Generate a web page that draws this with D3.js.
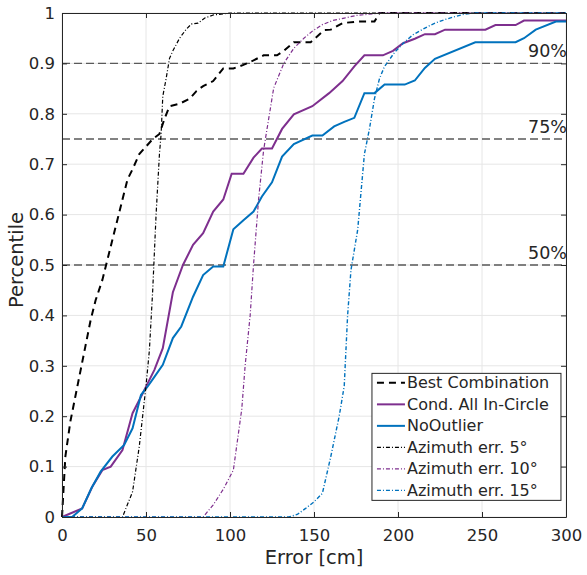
<!DOCTYPE html>
<html>
<head>
<meta charset="utf-8">
<script src="https://cdn.jsdelivr.net/npm/d3@7"></script>
<style>
    body { margin: 0; background: #fff; }
    text { font-family: "DejaVu Sans", Verdana, sans-serif; fill: #262626; }
</style>
</head>
<body>
<div id="chart"></div>
<script>
// error [cm] vs percentile
const bestCombination = [[0,0],[2,0.12],[5,0.19],[8,0.24],[11,0.29],[14,0.34],[17,0.39],[20,0.43],[24,0.47],[27,0.51],[30,0.55],[33,0.59],[36,0.63],[39,0.67],[42,0.69],[46,0.72],[50,0.735],[54,0.75],[58,0.76],[61,0.79],[64,0.815],[70,0.82],[76,0.83],[80,0.845],[84,0.855],[90,0.865],[96,0.89],[102,0.89],[108,0.897],[114,0.906],[120,0.916],[128,0.916],[132,0.925],[138,0.942],[148,0.942],[156,0.966],[160,0.967],[167,0.98],[176,0.983],[186,0.983],[189,1],[300,1]];
const condAllInCircle = [[0,0],[12,0.017],[18,0.06],[24,0.093],[29,0.1],[36,0.133],[42,0.206],[48,0.245],[55,0.292],[60,0.335],[66,0.446],[72,0.5],[78,0.54],[84,0.563],[90,0.606],[96,0.63],[101,0.681],[108,0.681],[114,0.713],[119,0.731],[125,0.731],[131,0.77],[138,0.799],[149,0.815],[159,0.841],[167,0.865],[174,0.894],[180,0.916],[191,0.916],[197,0.925],[203,0.94],[210,0.949],[216,0.958],[222,0.958],[228,0.967],[252,0.967],[258,0.976],[270,0.976],[275,0.985],[300,0.985]];
const noOutlier = [[0,0],[6,0],[12,0.017],[17.5,0.057],[23,0.09],[30,0.12],[37,0.143],[42,0.176],[47,0.242],[51,0.259],[55,0.278],[60,0.302],[66,0.355],[71,0.378],[78,0.437],[84,0.48],[90,0.497],[96,0.497],[102,0.571],[108,0.589],[114,0.606],[119,0.636],[125,0.664],[131,0.715],[138,0.74],[149,0.757],[155,0.757],[162,0.775],[168,0.784],[174,0.792],[180,0.841],[186,0.841],[192,0.858],[204,0.858],[210,0.866],[216,0.891],[222,0.909],[246,0.942],[270,0.942],[275,0.95],[282,0.967],[294,0.983],[300,0.983]];
const azimuth5 = [[0,0],[36,0],[42,0.05],[46,0.14],[50,0.26],[52,0.33],[54,0.45],[56,0.6],[58,0.72],[59,0.76],[60,0.835],[62,0.87],[64,0.91],[66,0.925],[70,0.95],[74,0.968],[77,0.978],[81,0.98],[85,0.99],[90,0.996],[100,1],[300,1]];
const azimuth10 = [[0,0],[84,0],[90,0.024],[96,0.055],[102,0.093],[107,0.214],[109,0.3],[112,0.4],[114,0.5],[117,0.63],[120,0.728],[126,0.851],[132,0.9],[138,0.93],[144,0.95],[149,0.964],[155,0.977],[161,0.985],[168,0.99],[175,0.995],[190,1],[300,1]];
const azimuth15 = [[0,0],[135,0],[140,0.005],[145,0.017],[150,0.03],[155,0.047],[160,0.12],[165,0.2],[168,0.26],[170,0.4],[172,0.49],[176,0.57],[180,0.72],[183,0.77],[186,0.83],[189,0.87],[192,0.894],[198,0.922],[204,0.943],[209,0.957],[216,0.97],[222,0.98],[228,0.987],[234,0.993],[240,0.998],[246,1],[300,1]];

const seriesNames = ["Best Combination", "Cond. All In-Circle", "NoOutlier", "Azimuth err. 5°", "Azimuth err. 10°", "Azimuth err. 15°"];
const xTicks = [0, 50, 100, 150, 200, 250, 300];
const yTicks = [0, 0.1, 0.2, 0.3, 0.4, 0.5, 0.6, 0.7, 0.8, 0.9, 1];
const refLevels = [0.5, 0.75, 0.9];
const refLabels = ["50%", "75%", "90%"];

class CdfChart {

    constructor(parentElement) {
        this.parentElement = parentElement;
        this.series = [bestCombination, condAllInCircle, noOutlier, azimuth5, azimuth10, azimuth15];
        this.initVis();
    }

    initVis() {
        let vis = this;

        vis.margin = {top: 13, right: 21, bottom: 58, left: 62};
        vis.width = 587 - vis.margin.left - vis.margin.right;
        vis.height = 575 - vis.margin.top - vis.margin.bottom;

        vis.root = d3.select("#" + vis.parentElement).append("svg")
            .attr("width", 587)
            .attr("height", 575);
        vis.svg = vis.root.append("g")
            .attr("transform", `translate(${vis.margin.left}, ${vis.margin.top})`);

        vis.x = d3.scaleLinear().domain([0, 300]).range([0, vis.width]);
        vis.y = d3.scaleLinear().domain([0, 1]).range([vis.height, 0]);

        // one style per series, matlab default colours
        vis.styles = [
            {color: "#000000", width: 2, dash: "7,5"},
            {color: "#7E2F8E", width: 2, dash: null},
            {color: "#0072BD", width: 2, dash: null},
            {color: "#000000", width: 1.2, dash: "4,2,1,2"},
            {color: "#7E2F8E", width: 1.2, dash: "4,2,1,2"},
            {color: "#0072BD", width: 1.4, dash: "4,2,1,2"}
        ];

        vis.updateVis();
    }

    updateVis() {
        let vis = this;

        // grid
        vis.svg.append("g").selectAll("line.gx")
            .data(xTicks).enter().append("line")
            .attr("x1", d => vis.x(d)).attr("x2", d => vis.x(d))
            .attr("y1", 0).attr("y2", vis.height)
            .style("stroke", "#e6e6e6");
        vis.svg.append("g").selectAll("line.gy")
            .data(yTicks).enter().append("line")
            .attr("x1", 0).attr("x2", vis.width)
            .attr("y1", d => vis.y(d)).attr("y2", d => vis.y(d))
            .style("stroke", "#e6e6e6");

        // percentile reference lines
        vis.svg.append("g").selectAll("line")
            .data(refLevels).enter().append("line")
            .attr("x1", 0).attr("x2", vis.width)
            .attr("y1", d => vis.y(d)).attr("y2", d => vis.y(d))
            .style("stroke", "#5a5a5a")
            .style("stroke-width", 1.3)
            .style("stroke-dasharray", "8,4");

        vis.svg.append("g").selectAll("text")
            .data(refLevels).enter().append("text")
            .attr("x", vis.width + 1)
            .attr("y", d => vis.y(d) - 6)
            .attr("text-anchor", "end")
            .style("font-size", "17.5px")
            .text((d, i) => refLabels[i]);

        // curves
        let line = d3.line().x(d => vis.x(d[0])).y(d => vis.y(d[1]));
        vis.svg.append("g").selectAll("path")
            .data(vis.series).enter().append("path")
            .attr("d", line)
            .style("fill", "none")
            .style("stroke", (d, i) => vis.styles[i].color)
            .style("stroke-width", (d, i) => vis.styles[i].width)
            .style("stroke-dasharray", (d, i) => vis.styles[i].dash);

        // axes, box with inward ticks
        let fmt = d => (d === 0 || d === 1) ? d : d.toFixed(1);
        let bottom = vis.svg.append("g")
            .attr("transform", `translate(0, ${vis.height})`)
            .call(d3.axisBottom(vis.x).tickValues(xTicks).tickSizeInner(-5).tickSizeOuter(0).tickPadding(12.5));
        let left = vis.svg.append("g")
            .call(d3.axisLeft(vis.y).tickValues(yTicks).tickFormat(fmt).tickSizeInner(-5).tickSizeOuter(0).tickPadding(7));
        let top = vis.svg.append("g")
            .call(d3.axisTop(vis.x).tickValues(xTicks).tickSizeInner(-5).tickSizeOuter(0).tickFormat(""));
        let right = vis.svg.append("g")
            .attr("transform", `translate(${vis.width}, 0)`)
            .call(d3.axisRight(vis.y).tickValues(yTicks).tickSizeInner(-5).tickSizeOuter(0).tickFormat(""));

        [bottom, left, top, right].forEach(g => {
            g.selectAll("path, line").style("stroke", "#262626");
            g.selectAll("text")
                .style("font-size", "16.5px")
                .style("font-family", "'DejaVu Sans', Verdana, sans-serif")
                .style("fill", "#262626");
        });

        // axis titles
        vis.svg.append("text")
            .attr("x", vis.width / 2)
            .attr("y", vis.height + 47)
            .attr("text-anchor", "middle")
            .style("font-size", "19.5px")
            .text("Error [cm]");
        vis.svg.append("text")
            .attr("transform", `translate(${-39}, ${vis.height / 2 - 5}) rotate(-90)`)
            .attr("text-anchor", "middle")
            .style("font-size", "19.5px")
            .text("Percentile");

        // legend
        let lg = vis.svg.append("g")
            .attr("transform", `translate(${vis.x(184.5)}, ${vis.y(0.285)})`);
        lg.append("rect")
            .attr("width", 189).attr("height", 127)
            .style("fill", "#fff")
            .style("stroke", "#262626");
        let rows = lg.selectAll("g.row")
            .data(seriesNames).enter().append("g")
            .attr("transform", (d, i) => `translate(0, ${9.5 + i * 21.5})`);
        rows.append("line")
            .attr("x1", 5).attr("x2", 33)
            .style("stroke", (d, i) => vis.styles[i].color)
            .style("stroke-width", (d, i) => vis.styles[i].width)
            .style("stroke-dasharray", (d, i) => vis.styles[i].dash);
        rows.append("text")
            .attr("x", 35)
            .attr("y", 5.5)
            .style("font-size", "16px")
            .text(d => d);
    }
}

new CdfChart("chart");
</script>
</body>
</html>
